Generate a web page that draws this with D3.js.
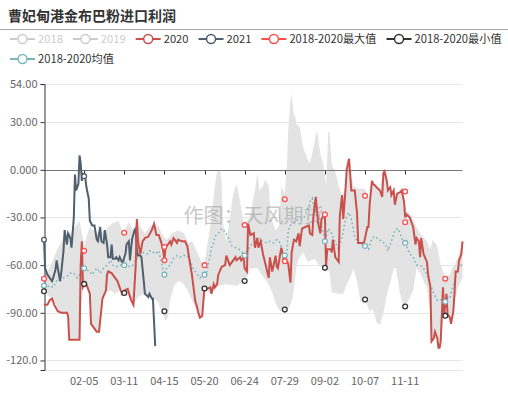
<!DOCTYPE html>
<html>
<head>
<meta charset="utf-8">
<script src="https://cdn.jsdelivr.net/npm/d3@7"></script>
<style>
  body { margin: 0; background: #fff; }
  text { font-family: "Noto Sans CJK SC", "Noto Sans", sans-serif; }
</style>
</head>
<body>
<div id="chart"></div>
<script>
// ---- data (day = days after 01-01 of a leap year) ----

const title = "曹妃甸港金布巴粉进口利润"
const watermark = "作图：天风期货"
const legendNames = ["2018", "2019", "2020", "2021", "2018-2020最大值", "2018-2020最小值", "2018-2020均值"]
const hiddenNames = ["2018", "2019"]

const xTickLabels = ["02-05", "03-11", "04-15", "05-20", "06-24", "07-29", "09-02", "10-07", "11-11"]
const yTickValues = [54, 30, 0, -30, -60, -90, -120]
const yTickLabels = ["54.00", "30.00", "0.000", "-30.00", "-60.00", "-90.00", "-120.0"]

// days where the series show their little circles
const markDays = [0, 35, 70, 105, 140, 175, 210, 245, 280, 315, 350]
const maxMarks = [-68.6, -51, -39.6, -48.6, -60, -34.7, -18.5, -28.2, -16.4, -13.7, -68.6]
const minMarks = [-76.4, -71.8, -77.5, -89, -74.7, -70, -88, -61.7, -81.7, -86, -91.8]
const marks2020 = [[105, -57], [210, -57.5], [315, -33]]
const marks2021 = [[0, -44], [35, -4]]

const s2020 = [[0,-85],[3,-85],[5,-82],[7,-81],[9,-85],[12,-89],[15,-90],[20,-90],[21,-92],[22,-107],[31,-107],[32,-60],[33,-45],[34,-74],[35,-73],[37,-72],[40,-78],[41,-97],[44,-100],[46,-102],[48,-102],[49,-95],[51,-81],[54,-76],[55,-66],[56,-64],[59,-65],[62,-68],[64,-70],[66,-74],[68,-78],[70,-76],[73,-75],[76,-82],[78,-85],[80,-60],[81,-31],[82,-45],[84,-53],[86,-45],[88,-43],[91,-42],[94,-38],[96,-34],[98,-41],[100,-41],[102,-45],[104,-51],[105,-57],[106,-49],[108,-47],[110,-45],[111,-47],[113,-43],[116,-46],[117,-44],[120,-45],[123,-45],[125,-48],[126,-53],[129,-66],[132,-83],[133,-85],[135,-91],[136,-93],[138,-92],[139,-83],[140,-74],[142,-75],[145,-74],[146,-78],[148,-72],[149,-74],[151,-72],[152,-66],[155,-61],[158,-60],[159,-54],[162,-60],[165,-57],[167,-55],[168,-57],[171,-55],[172,-57],[174,-55],[175,-62],[177,-64],[178,-34],[180,-41],[183,-40],[184,-49],[186,-43],[187,-49],[189,-45],[191,-53],[194,-62],[196,-68],[197,-55],[199,-64],[200,-61],[202,-54],[203,-61],[204,-62],[206,-53],[207,-49],[209,-56],[210,-55],[212,-58],[213,-59],[215,-71],[216,-52],[218,-44],[220,-45],[222,-40],[223,-48],[225,-37],[228,-36],[231,-35],[232,-40],[234,-41],[235,-29],[237,-17],[238,-25],[239,-33],[241,-40],[242,-31],[244,-29],[245,-28],[246,-61],[247,-50],[250,-50],[251,-52],[252,-44],[254,-55],[255,-56],[257,-58],[258,-29],[260,-16],[261,-31],[263,-12],[264,0],[266,7],[267,-2],[268,-13],[271,-13],[273,-27],[274,-46],[279,-46],[280,-43],[282,-36],[283,-36],[284,-22],[286,-7],[287,-9],[289,-10],[290,-11],[293,-13],[295,-17],[296,-2],[297,-1],[299,-7],[300,-13],[302,-11],[303,-16],[305,-13],[306,-22],[308,-15],[311,-14],[312,-13],[314,-20],[315,-30],[316,-28],[319,-30],[322,-36],[324,-47],[325,-43],[327,-45],[328,-55],[329,-43],[331,-53],[334,-58],[335,-66],[337,-74],[338,-108],[340,-106],[341,-102],[343,-106],[344,-112],[345,-112],[346,-108],[348,-74],[349,-91],[350,-85],[351,-78],[352,-91],[354,-93],[355,-97],[357,-89],[358,-78],[359,-64],[361,-64],[362,-57],[364,-53],[365,-45]]

const s2021 = [[0,-44],[1,-62],[3,-66],[7,-70],[8,-68],[10,-63],[11,-57],[13,-66],[14,-70],[15,-65],[17,-51],[18,-38],[20,-47],[21,-40],[23,-43],[24,-49],[26,-30],[27,-3],[28,-13],[30,-9],[31,9],[32,4],[33,-7],[34,-3],[35,-4],[36,-5],[37,-11],[39,-18],[40,-32],[42,-35],[44,-35],[46,-44],[47,-45],[49,-36],[50,-45],[52,-46],[53,-38],[55,-47],[56,-55],[58,-55],[59,-47],[60,-56],[62,-56],[63,-55],[65,-57],[66,-55],[68,-58],[69,-58],[70,-55],[71,-53],[72,-47],[74,-45],[75,-57],[76,-49],[77,-43],[79,-38],[80,-37],[81,-51],[82,-54],[84,-54],[85,-55],[87,-70],[88,-78],[91,-80],[92,-78],[94,-81],[95,-81],[97,-111]]

const avg = [[0,-73],[2,-74],[5,-73],[8,-74],[11,-70],[14,-70],[17,-68],[20,-67],[23,-65],[26,-65],[29,-68],[31,-66],[35,-62],[37,-63],[40,-64],[42,-66],[44,-64],[46,-62],[49,-65],[52,-62],[55,-60],[58,-57],[60,-60],[63,-61],[66,-60],[70,-60],[75,-61],[78,-60],[81,-56],[84,-54],[87,-52],[90,-53],[92,-51],[94,-51],[97,-53],[100,-51],[103,-60],[105,-66],[107,-62],[110,-60],[113,-56],[116,-54],[119,-55],[122,-54],[125,-54],[127,-56],[130,-62],[133,-65],[136,-68],[138,-67],[140,-66],[142,-64],[143,-60],[145,-54],[146,-49],[148,-46],[149,-42],[152,-40],[155,-37],[158,-39],[161,-43],[164,-48],[167,-49],[170,-50],[172,-51],[175,-54],[178,-50],[181,-47],[184,-45],[186,-42],[188,-44],[191,-45],[194,-46],[197,-45],[200,-46],[203,-44],[206,-46],[208,-52],[210,-54],[212,-50],[213,-38],[215,-35],[218,-33],[220,-32],[223,-31],[226,-31],[229,-27],[232,-20],[234,-18],[235,-23],[238,-29],[241,-33],[244,-40],[245,-45],[248,-37],[251,-40],[254,-46],[257,-50],[260,-42],[263,-31],[266,-27],[268,-31],[271,-42],[274,-46],[277,-47],[280,-48],[283,-50],[286,-43],[289,-42],[292,-44],[295,-45],[298,-47],[300,-51],[303,-45],[306,-38],[309,-37],[311,-41],[314,-47],[315,-46],[316,-48],[319,-53],[322,-55],[325,-60],[328,-60],[331,-62],[334,-66],[337,-72],[340,-78],[343,-82],[346,-82],[348,-81],[350,-83],[351,-80],[354,-81],[355,-78],[358,-70],[361,-62],[364,-60],[365,-61]]

// grey band: upper and lower edge of the 2018-2020 range
const rangeHigh = [[0,-66],[3,-64],[6,-60],[11,-51],[17,-43],[23,-40],[27,-36],[31,-32],[33,-40],[35,-48],[38,-40],[40,-36],[43,-38],[49,-40],[55,-37],[59,-34],[65,-32],[68,-38],[70,-38],[74,-33],[78,-38],[81,-31],[84,-36],[88,-40],[92,-36],[96,-34],[100,-36],[104,-42],[107,-44],[112,-40],[117,-38],[122,-40],[126,-46],[129,-45],[133,-51],[138,-59],[140,-58],[143,-45],[146,-31],[149,-10],[151,-1],[154,-1],[155,-9],[156,-34],[159,-45],[162,-31],[165,-15],[168,-9],[171,-20],[174,-34],[178,-34],[181,-24],[184,-13],[186,-2],[188,-13],[191,-10],[193,-6],[196,-10],[198,-30],[202,-38],[205,-35],[207,-10],[210,-15],[212,5],[213,25],[215,44],[216,48],[218,33],[219,35],[220,29],[223,27],[226,14],[229,8],[232,4],[235,14],[238,25],[241,10],[244,2],[246,-10],[248,24],[249,24],[251,3],[254,-1],[257,-10],[260,-16],[263,-12],[264,0],[266,7],[267,-2],[270,-10],[274,-12],[280,-12],[284,-20],[286,-6],[290,-10],[293,-12],[296,-1],[297,0],[300,-12],[303,-15],[306,-20],[308,-14],[312,-12],[314,-18],[316,-26],[320,-28],[324,-35],[328,-40],[334,-45],[337,-50],[339,-44],[343,-48],[346,-60],[348,-64],[350,-67],[354,-66],[356,-62],[358,-60],[361,-55],[365,-45]]

const rangeLow = [[0,-76],[5,-80],[10,-84],[13,-89],[15,-90],[20,-90],[21,-92],[22,-107],[31,-107],[33,-80],[35,-72],[38,-76],[40,-79],[41,-97],[44,-100],[46,-102],[48,-102],[49,-95],[51,-82],[54,-77],[58,-76],[62,-78],[66,-76],[70,-78],[74,-80],[78,-85],[82,-80],[88,-78],[95,-80],[100,-84],[103,-90],[106,-95],[108,-93],[110,-82],[114,-72],[118,-70],[122,-72],[126,-77],[129,-82],[132,-87],[135,-91],[136,-93],[138,-92],[140,-75],[146,-78],[152,-73],[160,-72],[168,-73],[175,-70],[178,-66],[180,-62],[186,-62],[190,-66],[194,-70],[198,-75],[202,-84],[206,-89],[210,-88],[214,-87],[217,-80],[220,-62],[222,-56],[226,-52],[230,-58],[236,-56],[240,-60],[245,-62],[249,-64],[251,-77],[256,-78],[261,-78],[264,-72],[267,-68],[270,-62],[273,-70],[276,-83],[280,-82],[284,-89],[287,-88],[290,-96],[293,-98],[296,-90],[299,-79],[303,-68],[305,-62],[307,-62],[310,-76],[313,-85],[315,-86],[318,-82],[322,-76],[325,-62],[328,-65],[331,-70],[334,-74],[337,-91],[338,-108],[340,-106],[341,-102],[343,-106],[344,-112],[345,-112],[346,-108],[348,-90],[350,-92],[352,-91],[354,-93],[355,-98],[357,-89],[359,-80],[361,-74],[365,-68]]

// ---- drawing ----

const width = 508
const height = 399
const colors = {
  "2018": "#c23531", "2019": "#2f4554",
  "2020": "#c9504b", "2021": "#4f5f6d",
  "2018-2020最大值": "#ff4d4d", "2018-2020最小值": "#333333", "2018-2020均值": "#7ab6bd"
}

const svg = d3.select("#chart").append("svg")
    .attr("width", width)
    .attr("height", height)

const yearStart = new Date(2020, 0, 1)
const dayDate = d => d3.timeDay.offset(yearStart, d)
const parseMD = d3.timeParse("%Y-%m-%d")

const x = d3.scaleTime()
  .domain([yearStart, new Date(2020, 11, 31)])
  .range([44, 462.5])
const y = d3.scaleLinear()
  .domain([-126, 54])
  .range([370, 84])

// title + rule under it
svg.append("text")
    .attr("x", 8).attr("y", 21)
    .attr("font-size", 14).attr("font-weight", 600).attr("fill", "#333")
    .text(title)
svg.append("line")
    .attr("x1", 0).attr("x2", width).attr("y1", 29.5).attr("y2", 29.5)
    .attr("stroke", "#aaa")

// legend, laid out like echarts: icon 25px, gap 10px, wraps
const legend = svg.append("g")
let lx = 10, ly = 39
legendNames.forEach(name => {
  const off = hiddenNames.includes(name)
  const c = off ? "#ccc" : colors[name]
  const g = legend.append("g")
  const t = g.append("text")
      .attr("x", lx + 28).attr("y", ly + 4)
      .attr("font-size", 11.2).attr("fill", off ? "#ccc" : "#333")
      .text(name)
  const w = t.node().getComputedTextLength()
  if (lx + 28 + w > width - 4) {
    lx = 10; ly += 20
    t.attr("x", lx + 28).attr("y", ly + 4)
  }
  g.append("line")
      .attr("x1", lx).attr("x2", lx + 25).attr("y1", ly).attr("y2", ly)
      .attr("stroke", c).attr("stroke-width", 2)
  g.append("circle")
      .attr("cx", lx + 12.5).attr("cy", ly).attr("r", 4.5)
      .attr("fill", "#fff").attr("stroke", c).attr("stroke-width", 1.5)
  lx += 28 + w + 10
})

// grid
svg.append("g")
  .selectAll("line")
  .data(yTickValues.filter(v => v !== 0).concat([-126]))
  .join("line")
    .attr("x1", 44).attr("x2", 462.5)
    .attr("y1", d => Math.round(y(d)) + 0.5).attr("y2", d => Math.round(y(d)) + 0.5)
    .attr("stroke", "#e6e6e6")

// grey band of the range
const bandPts = rangeHigh.concat(rangeLow.slice().reverse())
svg.append("path")
    .attr("d", d3.line().x(d => x(dayDate(d[0]))).y(d => y(d[1]))(bandPts) + "Z")
    .attr("fill", "#e3e3e3")

svg.append("text")
    .attr("x", x(dayDate(120)) + 2).attr("y", 223)
    .attr("font-size", 20).attr("fill", "#999").attr("fill-opacity", 0.55)
    .text(watermark)

// x axis sits on zero, its labels at the bottom
const xTickDates = xTickLabels.map(l => parseMD("2020-" + l))
const zeroY = Math.round(y(0)) + 0.5
svg.append("line")
    .attr("x1", 44).attr("x2", 462.5).attr("y1", zeroY).attr("y2", zeroY)
    .attr("stroke", "#777").attr("stroke-width", 1.2)
svg.append("g")
  .selectAll("line")
  .data(xTickDates)
  .join("line")
    .attr("x1", d => Math.round(x(d)) + 0.5).attr("x2", d => Math.round(x(d)) + 0.5)
    .attr("y1", zeroY).attr("y2", zeroY + 4)
    .attr("stroke", "#333")
svg.append("g")
  .selectAll("text")
  .data(xTickDates)
  .join("text")
    .attr("x", d => x(d)).attr("y", 385)
    .attr("text-anchor", "middle").attr("font-size", 11).attr("fill", "#666")
    .text((d, i) => xTickLabels[i])

// y axis
const yAxis = svg.append("g").attr("transform", "translate(44.5,0)")
  .call(d3.axisLeft(y).tickValues(yTickValues).tickSize(4).tickFormat((d, i) => yTickLabels[i]))
yAxis.select(".domain").attr("stroke", "#333")
yAxis.selectAll(".tick line").attr("stroke", "#333")
yAxis.selectAll(".tick text")
    .attr("font-size", 11).attr("fill", "#666")
    .attr("font-family", "'Noto Sans CJK SC', sans-serif")

// series lines
const line = d3.line().x(d => x(dayDate(d[0]))).y(d => y(d[1]))
svg.append("path").datum(avg)
    .attr("d", line).attr("fill", "none")
    .attr("stroke", colors["2018-2020均值"]).attr("stroke-width", 1.6)
    .attr("stroke-dasharray", "1.6,2.6")
svg.append("path").datum(s2021)
    .attr("d", line).attr("fill", "none")
    .attr("stroke", colors["2021"]).attr("stroke-width", 2)
svg.append("path").datum(s2020)
    .attr("d", line).attr("fill", "none")
    .attr("stroke", colors["2020"]).attr("stroke-width", 2)

// circles on the mark days
function marks(points, color) {
  svg.append("g")
    .selectAll("circle")
    .data(points)
    .join("circle")
      .attr("cx", d => x(dayDate(d[0]))).attr("cy", d => y(d[1]))
      .attr("r", 2.4)
      .attr("fill", "#fff").attr("stroke", color).attr("stroke-width", 1.3)
}
marks(avg.filter(d => markDays.includes(d[0])), colors["2018-2020均值"])
marks(markDays.map((d, i) => [d, minMarks[i]]), colors["2018-2020最小值"])
marks(markDays.map((d, i) => [d, maxMarks[i]]), colors["2018-2020最大值"])
marks(marks2020, colors["2018-2020最大值"])
marks(marks2021, colors["2021"])
</script>
</body>
</html>
